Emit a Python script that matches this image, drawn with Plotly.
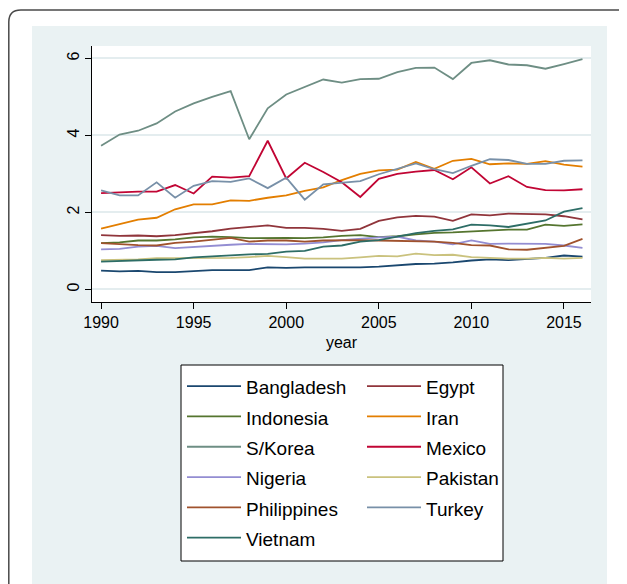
import plotly.graph_objects as go

years = list(range(1990, 2017))

bangladesh = [0.49, 0.47, 0.48, 0.45, 0.45, 0.47, 0.50, 0.50, 0.50, 0.57, 0.56, 0.57, 0.57, 0.57,
              0.57, 0.59, 0.63, 0.66, 0.67, 0.70, 0.75, 0.78, 0.76, 0.79, 0.82, 0.88, 0.85]
egypt = [1.41, 1.39, 1.40, 1.38, 1.41, 1.46, 1.51, 1.58, 1.62, 1.66, 1.60, 1.60, 1.57, 1.52,
         1.57, 1.78, 1.87, 1.91, 1.89, 1.78, 1.95, 1.92, 1.97, 1.96, 1.95, 1.90, 1.82]
indonesia = [1.20, 1.22, 1.27, 1.27, 1.30, 1.35, 1.37, 1.36, 1.33, 1.34, 1.34, 1.33, 1.35, 1.39,
             1.41, 1.36, 1.38, 1.43, 1.47, 1.48, 1.50, 1.52, 1.55, 1.55, 1.68, 1.65, 1.69]
iran = [1.58, 1.70, 1.81, 1.86, 2.08, 2.21, 2.21, 2.31, 2.30, 2.38, 2.44, 2.56, 2.65, 2.84,
        3.00, 3.09, 3.11, 3.31, 3.13, 3.34, 3.39, 3.25, 3.27, 3.26, 3.33, 3.24, 3.19]
skorea = [3.73, 4.02, 4.12, 4.31, 4.62, 4.83, 5.00, 5.15, 3.90, 4.70, 5.06, 5.26, 5.45, 5.37,
          5.46, 5.47, 5.64, 5.75, 5.76, 5.46, 5.88, 5.95, 5.84, 5.82, 5.73, 5.85, 5.98]
mexico = [2.50, 2.52, 2.54, 2.54, 2.71, 2.49, 2.93, 2.90, 2.94, 3.86, 2.88, 3.29, 3.05, 2.78,
          2.40, 2.87, 3.00, 3.06, 3.10, 2.86, 3.17, 2.75, 2.94, 2.66, 2.58, 2.57, 2.60]
nigeria = [1.04, 1.05, 1.11, 1.13, 1.07, 1.10, 1.14, 1.16, 1.18, 1.17, 1.17, 1.19, 1.22, 1.28,
           1.32, 1.35, 1.37, 1.27, 1.24, 1.17, 1.27, 1.18, 1.19, 1.18, 1.18, 1.14, 1.08]
pakistan = [0.76, 0.77, 0.78, 0.81, 0.81, 0.82, 0.82, 0.82, 0.84, 0.87, 0.84, 0.80, 0.80, 0.80,
            0.83, 0.87, 0.86, 0.93, 0.89, 0.90, 0.84, 0.82, 0.80, 0.80, 0.82, 0.80, 0.82]
philippines = [1.20, 1.17, 1.15, 1.14, 1.21, 1.24, 1.29, 1.34, 1.24, 1.27, 1.27, 1.24, 1.27, 1.28,
               1.28, 1.27, 1.26, 1.25, 1.24, 1.21, 1.15, 1.14, 1.04, 1.03, 1.08, 1.13, 1.31]
turkey = [2.57, 2.44, 2.44, 2.78, 2.38, 2.69, 2.81, 2.79, 2.88, 2.63, 2.90, 2.33, 2.73, 2.77,
          2.81, 2.99, 3.13, 3.27, 3.12, 3.02, 3.21, 3.38, 3.36, 3.26, 3.26, 3.34, 3.35]
vietnam = [0.72, 0.74, 0.75, 0.77, 0.78, 0.83, 0.86, 0.89, 0.91, 0.92, 0.98, 1.00, 1.11, 1.14,
           1.24, 1.28, 1.37, 1.46, 1.52, 1.56, 1.68, 1.66, 1.62, 1.71, 1.79, 2.02, 2.11]

series = [
    ("Bangladesh", bangladesh, "#1A476F"),
    ("Egypt", egypt, "#90353B"),
    ("Indonesia", indonesia, "#55752F"),
    ("Iran", iran, "#E37E00"),
    ("S/Korea", skorea, "#6E8E84"),
    ("Mexico", mexico, "#C10534"),
    ("Nigeria", nigeria, "#938DD2"),
    ("Pakistan", pakistan, "#CAC27E"),
    ("Philippines", philippines, "#A0522D"),
    ("Turkey", turkey, "#7890A8"),
    ("Vietnam", vietnam, "#2D6D66"),
]

FONT = "Liberation Sans, Arial, sans-serif"

fig = go.Figure()
for name, vals, col in series:
    fig.add_trace(go.Scatter(x=years, y=vals, mode="lines",
                             name=f'<span style="font-size:19px">{name}</span>',
                             line=dict(color=col, width=1.8)))

# page is drawn 8px in from the window corner (body margin), so work in figure px
FW, FH = 619, 576
L, R, T, B = 84, 583, 38, 294
W, H = R - L, B - T


def px(x):
    return (x - L) / W


def py(y):
    return (B - y) / H


rx, ry = 12 / W, 12 / H
border = (f"M {px(0.8)},{py(700)} L {px(0.8)},{py(2) - ry} "
          f"Q {px(0.8)},{py(2)} {px(0.8) + rx},{py(2)} L {px(700)},{py(2)}")

fig.update_layout(
    width=FW, height=FH,
    margin=dict(l=L, r=FW - R, t=T, b=FH - B),
    paper_bgcolor="white",
    plot_bgcolor="white",
    font=dict(family=FONT, color="black"),
    shapes=[
        dict(type="path", xref="paper", yref="paper", path=border,
             line=dict(color="#4a4a4a", width=1.5), layer="below"),
        dict(type="rect", xref="paper", yref="paper", x0=px(24), x1=px(599),
             y0=py(700), y1=py(18), fillcolor="#EAF2F3", line_width=0, layer="below"),
        dict(type="rect", xref="paper", yref="paper", x0=0, x1=1, y0=0, y1=1,
             fillcolor="white", line_width=0, layer="below"),
        # legend box
        dict(type="rect", xref="paper", yref="paper", x0=px(173), x1=px(495),
             y0=py(553), y1=py(357), fillcolor="white",
             line=dict(color="black", width=1), layer="below"),
    ],
    xaxis=dict(
        range=[1989.51, 2016.46], tickvals=[1990, 1995, 2000, 2005, 2010, 2015],
        showgrid=False, zeroline=False, showline=True, linecolor="black", linewidth=1,
        ticks="outside", ticklen=6, tickcolor="black",
        tickfont=dict(size=16),
        title=dict(text="year", font=dict(size=16), standoff=6),
    ),
    yaxis=dict(
        range=[-0.327, 6.32], tickvals=[0, 2, 4, 6], tickangle=-90,
        showgrid=True, gridcolor="#E4EDEF", gridwidth=1.5,
        zeroline=False, showline=True, linecolor="black", linewidth=1,
        ticks="outside", ticklen=6, tickcolor="black",
        tickfont=dict(size=16),
    ),
    legend=dict(
        orientation="h", x=px(174), xanchor="left", y=py(358), yanchor="top",
        bgcolor="rgba(0,0,0,0)", borderwidth=0,
        font=dict(size=21), itemwidth=54, entrywidth=111, traceorder="normal",
    ),
)

fig.write_html("out.html")
